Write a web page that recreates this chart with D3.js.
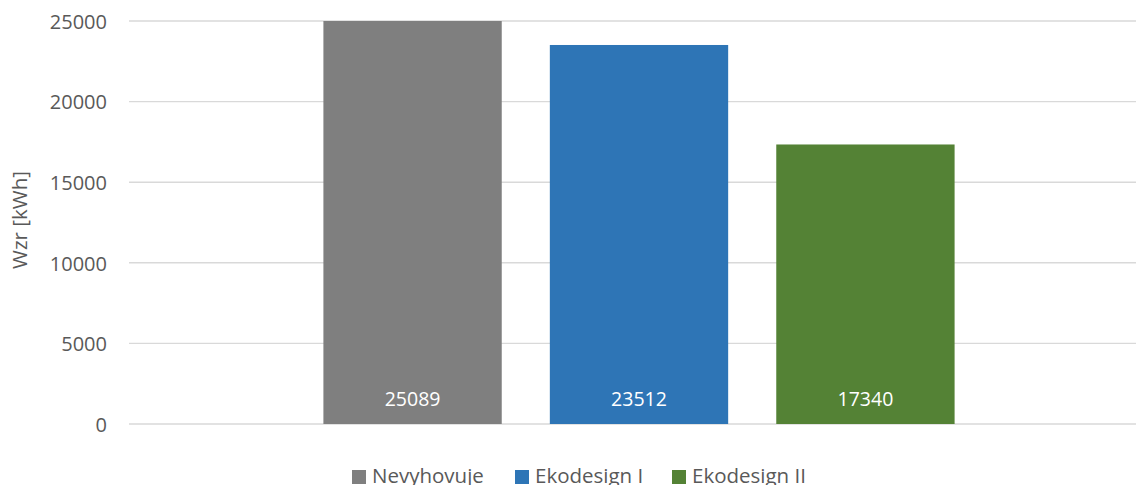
<!DOCTYPE html>
<html>
<head>
<meta charset="utf-8">
<script src="https://cdn.jsdelivr.net/npm/d3@7"></script>
<style>
  html, body { margin: 0; padding: 0; background: #fff; }
  svg { display: block; font-family: "Open Sans", sans-serif; }
</style>
</head>
<body>
<svg id="chart" width="1136" height="485"></svg>
<script>
// Annual energy consumption by compliance class
const categories = ["Wzr"];
const seriesNames = ["Nevyhovuje", "Ekodesign I", "Ekodesign II"];
const seriesValues = [25089, 23512, 17340];
const seriesColors = ["#7f7f7f", "#2e75b6", "#548235"];
const yTicks = [0, 5000, 10000, 15000, 20000, 25000];
const yTitle = "Wzr [kWh]";

const svg = d3.select("#chart");
const plot = { left: 129, right: 1149, top: 21, bottom: 424 };
const textColor = "#595959";

const y = d3.scaleLinear()
  .domain([0, 25000])
  .range([plot.bottom, plot.top])
  .clamp(true);

const x0 = d3.scaleBand()
  .domain(categories)
  .range([plot.left, plot.right])
  .paddingInner(0)
  .paddingOuter(0.308);

const x1 = d3.scaleBand()
  .domain(seriesNames)
  .range([0, x0.bandwidth()])
  .paddingInner(0.2124)
  .paddingOuter(0);

// Horizontal gridlines
svg.append("g")
  .selectAll("line")
  .data(yTicks)
  .join("line")
  .attr("x1", plot.left)
  .attr("x2", plot.right)
  .attr("y1", d => y(d))
  .attr("y2", d => y(d))
  .attr("stroke", "#d9d9d9")
  .attr("stroke-width", 1.4);

// Y-axis tick labels
const yAxis = d3.axisLeft(y).tickValues(yTicks).tickSize(0).tickPadding(0).tickFormat(d3.format("d"));
const yAxisG = svg.append("g")
  .attr("transform", `translate(${107},0)`)
  .call(yAxis);
yAxisG.select(".domain").remove();
yAxisG.selectAll("text")
  .attr("fill", textColor)
  .style("font-size", "20px")
  .style("font-family", "'Open Sans', sans-serif")
  .attr("dy", "0.36em");

// Y-axis title
svg.append("text")
  .attr("transform", `translate(27,220) rotate(-90)`)
  .attr("text-anchor", "middle")
  .attr("fill", textColor)
  .style("font-size", "20.5px")
  .text(yTitle);

// Bars
const groups = svg.append("g")
  .selectAll("g")
  .data(categories)
  .join("g")
  .attr("transform", d => `translate(${x0(d)},0)`);

const barData = seriesNames.map((name, i) => ({ name, value: seriesValues[i], color: seriesColors[i] }));

groups.selectAll("rect")
  .data(barData)
  .join("rect")
  .attr("x", d => x1(d.name))
  .attr("width", x1.bandwidth())
  .attr("y", d => y(d.value))
  .attr("height", d => y(0) - y(d.value))
  .attr("fill", d => d.color);

// Value labels at the base of each bar
groups.selectAll("text.value")
  .data(barData)
  .join("text")
  .attr("class", "value")
  .attr("x", d => x1(d.name) + x1.bandwidth() / 2)
  .attr("y", y(0) - 18)
  .attr("text-anchor", "middle")
  .attr("fill", "#ffffff")
  .style("font-size", "19.5px")
  .text(d => d3.format("d")(d.value));

// Legend
const legendX = [352, 515, 672];
const legend = svg.append("g");
barData.forEach((d, i) => {
  legend.append("rect")
    .attr("x", legendX[i])
    .attr("y", 470)
    .attr("width", 14)
    .attr("height", 14)
    .attr("fill", d.color);
  legend.append("text")
    .attr("x", legendX[i] + 20)
    .attr("y", 483)
    .attr("fill", textColor)
    .style("font-size", "20.5px")
    .text(d.name);
});
</script>
</body>
</html>
